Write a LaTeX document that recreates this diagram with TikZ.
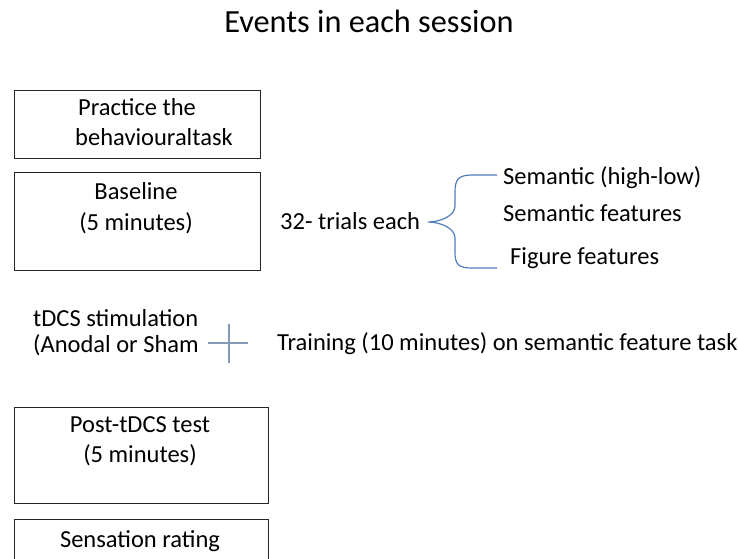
\documentclass[tikz,border=0pt]{standalone}
\usepackage{fontspec}
\setmainfont{Carlito}
\definecolor{bracecol}{HTML}{4F7DBA}
\definecolor{pluscol}{HTML}{8499B6}
\definecolor{boxline}{HTML}{262626}
\begin{document}
\begin{tikzpicture}[x=1pt,y=-1pt,
  box/.style={draw=boxline,line width=1.4pt,anchor=north west,inner sep=0pt},
  txt/.style={font=\fontsize{24.5}{28}\selectfont,inner sep=0pt,anchor=base},
  ltxt/.style={txt,anchor=base west},
  titletxt/.style={font=\fontsize{32.3}{36}\selectfont,inner sep=0pt,anchor=base}]
\useasboundingbox (0,0) rectangle (738,558);
% title
\node[titletxt] (title) at (369,32) {Events in each session};
% boxes
\node[box,minimum width=246pt,minimum height=68pt] (practice) at (14,90) {};
\node[box,minimum width=246pt,minimum height=98pt] (baseline) at (14,172) {};
\node[box,minimum width=254pt,minimum height=96pt] (post) at (14,407) {};
\node[box,minimum width=254pt,minimum height=60pt] (sens) at (14,519) {};
% box texts
\node[txt] (p1) at (137,115) {Practice the};
\node[txt] (p2) at (154,145) {behaviouraltask};
\node[txt] (b1) at (136,199) {Baseline};
\node[txt] (b2) at (136,230) {(5 minutes)};
\node[txt] (q1) at (140,432) {Post-tDCS test};
\node[txt] (q2) at (140,462) {(5 minutes)};
\node[txt] (s1) at (140,547) {Sensation rating};
% trials and brace
\node[ltxt] (trials) at (280,229) {32- trials each};
\node[ltxt] (sem) at (503,184) {Semantic (high-low)};
\node[ltxt] (semf) at (503,221) {Semantic features};
\node[ltxt] (fig) at (510,264) {Figure features};
\coordinate (tip) at (428,222);
\coordinate (top) at (497,175);
\coordinate (bot) at (497,268);
\draw[bracecol,line width=1.2pt]
  (top) -- (472,175) .. controls (458,175) and (455,180) .. (455,192)
  -- (455,206) .. controls (455,216) and (440,222) .. (tip)
  .. controls (440,222) and (455,228) .. (455,238)
  -- (455,252) .. controls (455,264) and (458,268) .. (472,268) -- (bot);
% stimulation
\node[ltxt] (t1) at (33,326) {tDCS stimulation};
\node[ltxt] (t2) at (33,352) {(Anodal or Sham};
\coordinate (plc) at (229,343);
\draw[pluscol,line width=1.6pt] ([xshift=-21pt]plc) -- ([xshift=19pt]plc);
\draw[pluscol,line width=1.6pt] ([yshift=-20pt]plc) -- ([yshift=19pt]plc);
\node[ltxt] (train) at (277,350) {Training (10 minutes) on semantic feature task};
\end{tikzpicture}
\end{document}
